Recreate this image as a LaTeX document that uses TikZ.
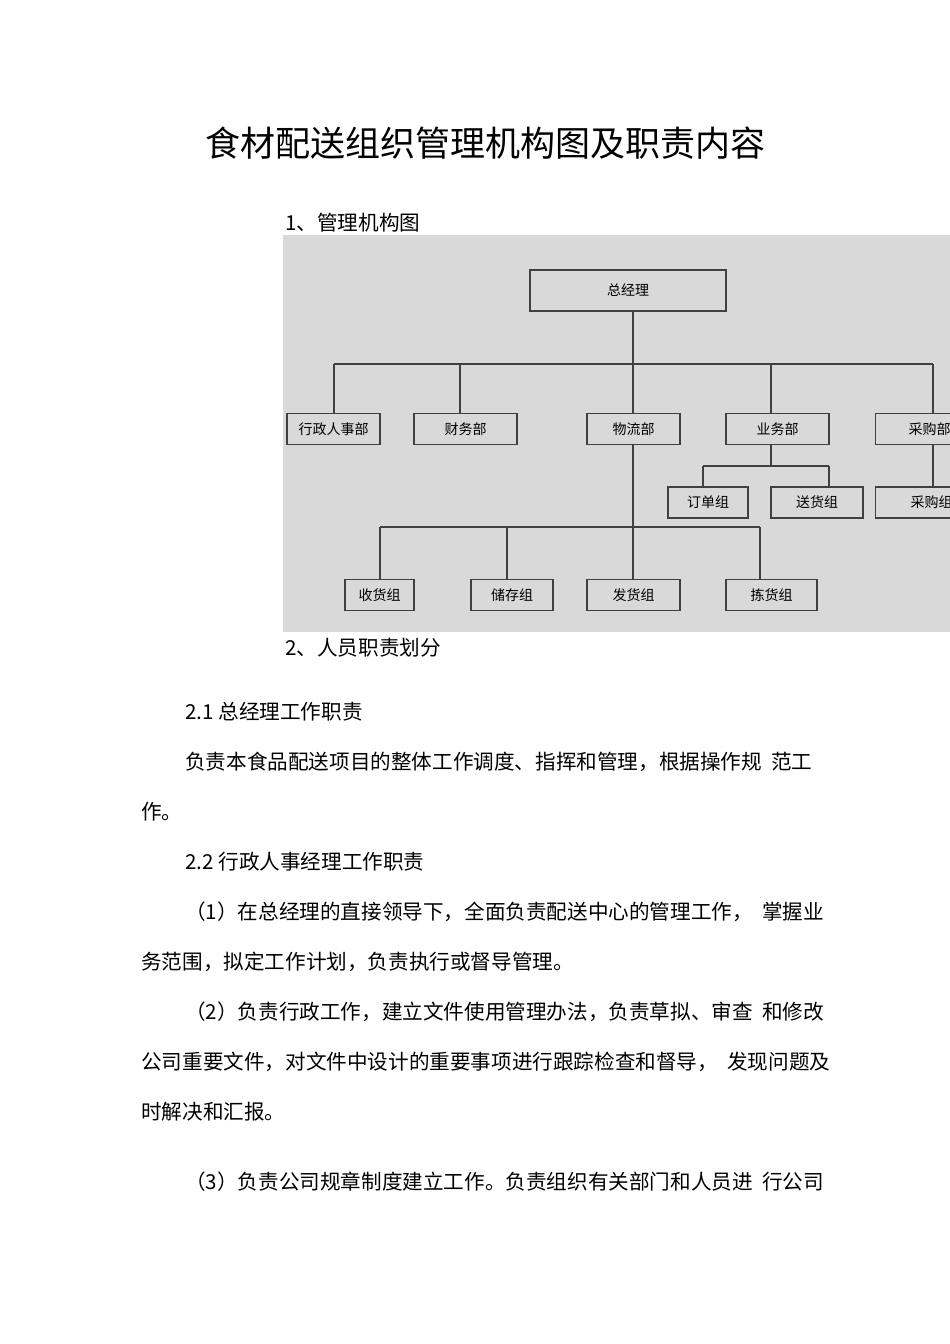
\documentclass[tikz,border=0pt]{standalone}
\usepackage{fontspec}
\setmainfont{Liberation Serif}
\newfontfamily\cjk{Noto Sans CJK SC}
\begin{document}
\begin{tikzpicture}[x=1pt,y=-1pt,
 box/.style={draw=black!75,line width=1.2pt,minimum height=31pt,inner sep=0pt,font=\cjk\fontsize{14}{14}\selectfont},
 ln/.style={draw=black!75,line width=1.2pt},
 tx/.style={anchor=base west,inner sep=0pt,font=\cjk\fontsize{20.6}{21}\selectfont}]
\useasboundingbox (0,0) rectangle (950,1344);
\fill[white] (0,0) rectangle (950,1344);
\node[anchor=center,font=\cjk\fontsize{35}{36}\selectfont] (title) at (485,143) {食材配送组织管理机构图及职责内容};
\node[tx] (s1) at (285,230) {1、管理机构图};
\begin{scope}
\clip (283,235) rectangle (950,632);
\fill[black!15] (283,235) rectangle (950,632);
\node[box,minimum width=196pt,minimum height=41pt] (gm) at (628,290.5) {总经理};
\node[box,minimum width=93pt] (xz) at (333.5,429) {行政人事部};
\node[box,minimum width=103pt] (cw) at (465.5,429) {财务部};
\node[box,minimum width=93pt] (wl) at (633.5,429) {物流部};
\node[box,minimum width=103pt] (yw) at (777.5,429) {业务部};
\node[box,minimum width=116pt,anchor=west,align=left,text width=116pt] (cg) at (875,429) {\hspace*{33pt}采购部};
\node[box,minimum width=80pt] (dd) at (708,502.5) {订单组};
\node[box,minimum width=92pt] (sh) at (817,502.5) {送货组};
\node[box,minimum width=116pt,anchor=west,align=left,text width=116pt] (cgz) at (875,502.5) {\hspace*{35pt}采购组};
\node[box,minimum width=69pt] (s1b) at (379.5,595) {收货组};
\node[box,minimum width=82pt] (s2b) at (512,595) {储存组};
\node[box,minimum width=93pt] (s3b) at (633.5,595) {发货组};
\node[box,minimum width=91pt] (s4b) at (771.5,595) {拣货组};
\draw[ln] (gm.south -| 633,0) -- (633,364);
\draw[ln] (334,364) -- (933,364);
\foreach \x/\n in {334/xz,460/cw,633/wl,771/yw,933/cg} \draw[ln] (\x,364) -- (\n.north -| \x,0);
\draw[ln] (yw.south -| 771,0) -- (771,466);
\draw[ln] (703,466) -- (829,466);
\draw[ln] (703,466) -- (dd.north -| 703,0);
\draw[ln] (829,466) -- (sh.north -| 829,0);
\draw[ln] (cg.south -| 933,0) -- (cgz.north -| 933,0);
\draw[ln] (wl.south -| 633,0) -- (633,527);
\draw[ln] (380,527) -- (760,527);
\foreach \x/\n in {380/s1b,507/s2b,633/s3b,760/s4b} \draw[ln] (\x,527) -- (\n.north -| \x,0);
\end{scope}
\node[tx] (s2) at (285,655) {2、人员职责划分};
\node[tx] (a) at (185,719) {2.1 总经理工作职责};
\node[tx] (b) at (185,769) {负责本食品配送项目的整体工作调度、指挥和管理，根据操作规\ \ 范工};
\node[tx] (c) at (141,819) {作。};
\node[tx] (d) at (185,869) {2.2 行政人事经理工作职责};
\node[tx] (e) at (185,919) {（1）在总经理的直接领导下，全面负责配送中心的管理工作，\ \ 掌握业};
\node[tx] (f) at (141,969) {务范围，拟定工作计划，负责执行或督导管理。};
\node[tx] (g) at (185,1019) {（2）负责行政工作，建立文件使用管理办法，负责草拟、审查\ \ 和修改};
\node[tx] (h) at (141,1069) {公司重要文件，对文件中设计的重要事项进行跟踪检查和督导，\ \ 发现问题及};
\node[tx] (i) at (141,1119) {时解决和汇报。};
\node[tx] (j) at (185,1189) {（3）负责公司规章制度建立工作。负责组织有关部门和人员进\ \ 行公司};
\end{tikzpicture}
\end{document}
